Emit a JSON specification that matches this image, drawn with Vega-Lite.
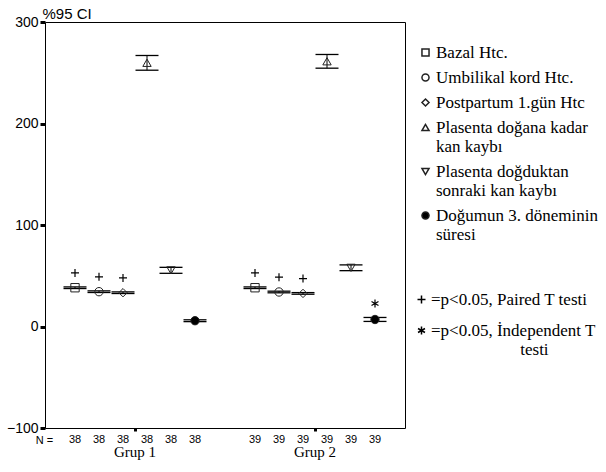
{
  "$schema": "https://vega.github.io/schema/vega-lite/v6.json",
  "width": 360,
  "height": 406,
  "autosize": "none",
  "padding": {"left": 45, "top": 22, "right": 201, "bottom": 44},
  "background": "white",
  "config": {
    "view": {"stroke": "black", "strokeWidth": 1},
    "axis": {"grid": false}
  },
  "data": {
    "values": [
      {"group": "Grup 1", "series": "Bazal Htc.", "mean": 38.2, "lo": 37.4, "hi": 39.0, "n": 38, "test": "Paired"},
      {"group": "Grup 1", "series": "Umbilikal kord Htc.", "mean": 34.3, "lo": 33.5, "hi": 35.1, "n": 38, "test": "Paired"},
      {"group": "Grup 1", "series": "Postpartum 1.gün Htc", "mean": 33.3, "lo": 32.5, "hi": 34.1, "n": 38, "test": "Paired"},
      {"group": "Grup 1", "series": "Plasenta doğana kadar kan kaybı", "mean": 259.8, "lo": 252.5, "hi": 267.0, "n": 38, "test": ""},
      {"group": "Grup 1", "series": "Plasenta doğduktan sonraki kan kaybı", "mean": 55.3, "lo": 52.4, "hi": 58.3, "n": 38, "test": ""},
      {"group": "Grup 1", "series": "Doğumun 3. döneminin süresi", "mean": 5.7, "lo": 4.8, "hi": 6.6, "n": 38, "test": ""},
      {"group": "Grup 2", "series": "Bazal Htc.", "mean": 38.2, "lo": 37.4, "hi": 39.0, "n": 39, "test": "Paired"},
      {"group": "Grup 2", "series": "Umbilikal kord Htc.", "mean": 34.0, "lo": 33.2, "hi": 34.8, "n": 39, "test": "Paired"},
      {"group": "Grup 2", "series": "Postpartum 1.gün Htc", "mean": 32.6, "lo": 31.8, "hi": 33.4, "n": 39, "test": "Paired"},
      {"group": "Grup 2", "series": "Plasenta doğana kadar kan kaybı", "mean": 261.3, "lo": 254.5, "hi": 268.0, "n": 39, "test": ""},
      {"group": "Grup 2", "series": "Plasenta doğduktan sonraki kan kaybı", "mean": 57.8, "lo": 55.0, "hi": 60.7, "n": 39, "test": ""},
      {"group": "Grup 2", "series": "Doğumun 3. döneminin süresi", "mean": 6.9, "lo": 5.0, "hi": 8.9, "n": 39, "test": "Independent"}
    ]
  },
  "resolve": {
    "scale": {"shape": "independent", "fill": "independent"},
    "legend": {"shape": "independent", "fill": "independent"}
  },
  "encoding": {
    "x": {
      "field": "group", "type": "nominal",
      "scale": {"paddingInner": 0.2, "paddingOuter": 0.1},
      "axis": {
        "title": "N =", "titleFont": "Liberation Sans", "titleFontSize": 11, "titleFontWeight": "normal",
        "titleX": -1, "titleY": 12, "titleAlign": "center", "titleBaseline": "middle", "titleColor": "black",
        "labelAngle": 0, "labelFont": "Liberation Serif", "labelFontSize": 15, "labelColor": "black",
        "labelPadding": 13, "labelBaseline": "top",
        "domain": false, "ticks": true, "tickSize": 3, "tickWidth": 3, "tickColor": "black"
      }
    },
    "xOffset": {
      "field": "series", "type": "nominal",
      "sort": ["Bazal Htc.", "Umbilikal kord Htc.", "Postpartum 1.gün Htc", "Plasenta doğana kadar kan kaybı", "Plasenta doğduktan sonraki kan kaybı", "Doğumun 3. döneminin süresi"],
      "scale": {"paddingInner": 0, "paddingOuter": 0}
    }
  },
  "layer": [
    {
      "mark": {"type": "tick", "orient": "horizontal", "size": 23, "thickness": 1.3, "color": "black", "opacity": 1},
      "encoding": {
        "y": {
          "field": "lo", "type": "quantitative",
          "scale": {"domain": [-100, 300], "nice": false, "zero": false},
          "axis": {
            "title": "%95 CI", "titleAngle": 0, "titleAlign": "left", "titleBaseline": "alphabetic",
            "titleX": -3, "titleY": -4, "titleFont": "Liberation Sans", "titleFontSize": 15,
            "titleFontWeight": "normal", "titleColor": "black",
            "values": [-100, 0, 100, 200, 300],
            "labelFont": "Liberation Sans", "labelFontSize": 14, "labelColor": "black", "labelPadding": 2,
            "tickSize": 5, "tickWidth": 3, "tickColor": "black", "domain": false, "grid": false
          }
        }
      }
    },
    {
      "mark": {"type": "tick", "orient": "horizontal", "size": 23, "thickness": 1.3, "color": "black", "opacity": 1},
      "encoding": {"y": {"field": "hi", "type": "quantitative"}}
    },
    {
      "mark": {"type": "rule", "color": "black", "strokeWidth": 1},
      "encoding": {
        "y": {"field": "lo", "type": "quantitative"},
        "y2": {"field": "hi"}
      }
    },
    {
      "mark": {"type": "point", "filled": true, "stroke": "#222", "strokeWidth": 1, "size": 70, "opacity": 1},
      "encoding": {
        "y": {"field": "mean", "type": "quantitative"},
        "shape": {
          "field": "series", "type": "nominal",
          "scale": {
            "domain": ["Bazal Htc.", "Umbilikal kord Htc.", "Postpartum 1.gün Htc", "Plasenta doğana kadar kan kaybı", "Plasenta doğduktan sonraki kan kaybı", "Doğumun 3. döneminin süresi"],
            "range": ["square", "circle", "diamond", "triangle-up", "triangle-down", "circle"]
          },
          "legend": {
            "title": null, "orient": "none", "legendX": 372, "legendY": 22,
            "labelFont": "Liberation Serif", "labelFontSize": 17, "labelColor": "black", "labelLimit": 300,
            "labelBaseline": "middle", "labelOffset": 2, "symbolSize": 50,
            "rowPadding": 7,
            "labelExpr": "datum.label == 'Plasenta doğana kadar kan kaybı' ? ['Plasenta doğana kadar', 'kan kaybı'] : datum.label == 'Plasenta doğduktan sonraki kan kaybı' ? ['Plasenta doğduktan', 'sonraki kan kaybı'] : datum.label == 'Doğumun 3. döneminin süresi' ? ['Doğumun 3. döneminin', 'süresi'] : datum.label",
            "encode": {
              "labels": {"lineHeight": {"value": 15}},
              "symbols": {"stroke": {"value": "#222"}, "strokeWidth": {"value": 1}}
            }
          }
        },
        "fill": {
          "field": "series", "type": "nominal",
          "scale": {
            "domain": ["Bazal Htc.", "Umbilikal kord Htc.", "Postpartum 1.gün Htc", "Plasenta doğana kadar kan kaybı", "Plasenta doğduktan sonraki kan kaybı", "Doğumun 3. döneminin süresi"],
            "range": ["transparent", "transparent", "transparent", "transparent", "transparent", "black"]
          },
          "legend": {
            "title": null, "orient": "none", "legendX": 372, "legendY": 22,
            "labelFont": "Liberation Serif", "labelFontSize": 17, "labelColor": "black", "labelLimit": 300,
            "labelBaseline": "middle", "labelOffset": 2, "symbolSize": 50,
            "rowPadding": 7,
            "labelExpr": "datum.label == 'Plasenta doğana kadar kan kaybı' ? ['Plasenta doğana kadar', 'kan kaybı'] : datum.label == 'Plasenta doğduktan sonraki kan kaybı' ? ['Plasenta doğduktan', 'sonraki kan kaybı'] : datum.label == 'Doğumun 3. döneminin süresi' ? ['Doğumun 3. döneminin', 'süresi'] : datum.label",
            "encode": {
              "labels": {"lineHeight": {"value": 15}},
              "symbols": {"stroke": {"value": "#222"}, "strokeWidth": {"value": 1}}
            }
          }
        }
      }
    },
    {
      "transform": [{"filter": "datum.test != ''"}],
      "mark": {"type": "point", "filled": false, "stroke": "black", "strokeWidth": 1.2, "size": 64, "yOffset": -14, "opacity": 1},
      "encoding": {
        "y": {"field": "hi", "type": "quantitative"},
        "shape": {
          "field": "test", "type": "nominal",
          "scale": {
            "domain": ["Paired", "Independent"],
            "range": ["M-1,0L1,0M0,-1L0,1", "M0,-1L0,1M-0.87,-0.5L0.87,0.5M-0.87,0.5L0.87,-0.5"]
          },
          "legend": {
            "title": null, "orient": "none", "legendX": 368, "legendY": 269,
            "labelFont": "Liberation Serif", "labelFontSize": 17, "labelColor": "black", "labelLimit": 300,
            "labelBaseline": "middle", "labelOffset": 1, "rowPadding": 13, "symbolSize": 64,
            "labelExpr": "datum.label == 'Paired' ? '=p<0.05, Paired T testi' : ['=p<0.05, İndependent T', '\u200b\u00a0\u00a0\u00a0\u00a0\u00a0\u00a0\u00a0\u00a0\u00a0\u00a0\u00a0\u00a0\u00a0\u00a0\u00a0\u00a0\u00a0\u00a0\u00a0\u00a0\u00a0testi']",
            "encode": {
              "labels": {"lineHeight": {"value": 17}},
              "symbols": {"fill": {"value": "transparent"}, "stroke": {"value": "black"}, "strokeWidth": {"value": 1.2}}
            }
          }
        }
      }
    },
    {
      "mark": {"type": "text", "dy": 12, "font": "Liberation Sans", "fontSize": 11, "color": "black", "baseline": "middle"},
      "encoding": {
        "y": {"datum": -100, "type": "quantitative"},
        "text": {"field": "n", "type": "nominal"}
      }
    }
  ]
}
